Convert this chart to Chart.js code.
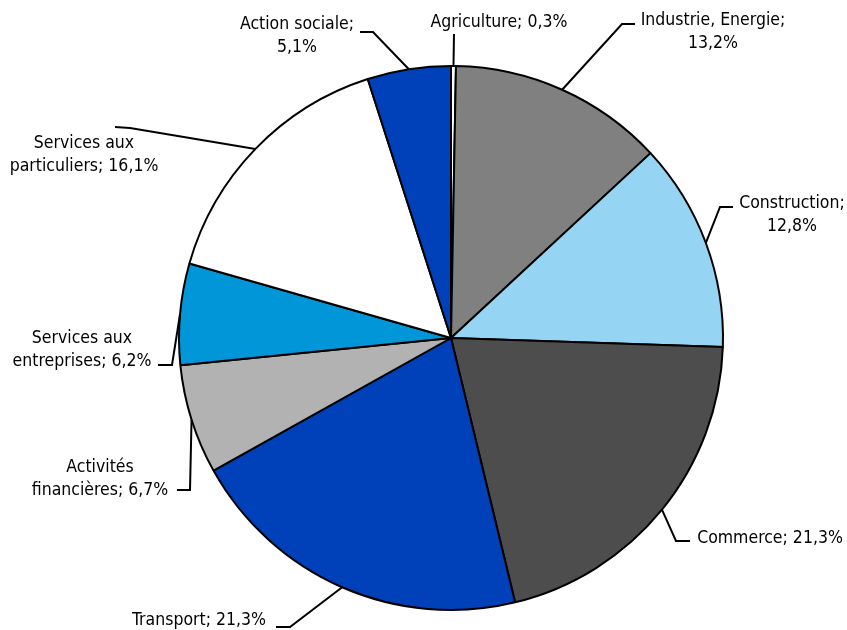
<!DOCTYPE html>
<html>
<head>
<meta charset="utf-8">
<script src="https://cdn.jsdelivr.net/npm/chart.js@4.4.1/dist/chart.umd.min.js"></script>
<style>
  html, body { margin: 0; padding: 0; background: #fff; }
  #wrap { width: 847px; height: 630px; }
</style>
</head>
<body>
<div id="wrap"><canvas id="chart" width="847" height="630"></canvas></div>
<script>
// data (clockwise from 12 o'clock)
const categories = [
  "Agriculture", "Industrie, Energie", "Construction", "Commerce", "Transport",
  "Activités financières", "Services aux entreprises", "Services aux particuliers", "Action sociale"
];
const shares = [0.3, 13.2, 12.8, 21.3, 21.3, 6.7, 6.2, 16.1, 5.1];
const colors = ["#ffffff", "#808080", "#96d4f4", "#4d4d4d", "#0041b9", "#b2b2b2", "#0096d8", "#ffffff", "#0041b9"];

// label placement: words on first line, text centre, line path after the slice edge
const labelLayout = [
  { words: 0, x: 499, y: 22,  path: [[454, 34]] },
  { words: 2, x: 713, y: 20,  path: [[622, 24], [635, 24]] },
  { words: 1, x: 792, y: 203, path: [[720, 207], [733, 207]] },
  { words: 0, x: 770, y: 538, path: [[676, 541], [690, 541]] },
  { words: 0, x: 199, y: 620, path: [[290, 627], [276, 627]] },
  { words: 1, x: 100, y: 467, path: [[190, 490], [177, 490]] },
  { words: 2, x: 82,  y: 338, path: [[172, 365], [158, 365]] },
  { words: 2, x: 84,  y: 143, path: [[130, 128], [115, 127]] },
  { words: 2, x: 297, y: 24,  path: [[373, 32], [360, 32]] }
];

const FONT = '17.5px "DejaVu Sans Condensed", "DejaVu Sans", sans-serif';
const LINE_H = 23;

function labelText(i) {
  const txt = categories[i] + "; " + shares[i].toFixed(1).replace(".", ",") + "%";
  const n = labelLayout[i].words;
  if (!n) return [txt];
  const w = txt.split(" ");
  return [w.slice(0, n).join(" "), w.slice(n).join(" ")];
}

const leaderLabels = {
  id: "leaderLabels",
  afterDatasetsDraw(chart) {
    const ctx = chart.ctx;
    const arcs = chart.getDatasetMeta(0).data;
    ctx.save();
    ctx.strokeStyle = "#000";
    ctx.lineWidth = 2;
    ctx.fillStyle = "#000";
    ctx.font = FONT;
    ctx.textAlign = "center";
    ctx.textBaseline = "middle";
    arcs.forEach((arc, i) => {
      const p = arc.getProps(["x", "y", "startAngle", "endAngle", "outerRadius"], true);
      const mid = (p.startAngle + p.endAngle) / 2;
      const ax = p.x + Math.cos(mid) * p.outerRadius;
      const ay = p.y + Math.sin(mid) * p.outerRadius;
      const lay = labelLayout[i];
      ctx.beginPath();
      ctx.moveTo(ax, ay);
      lay.path.forEach(pt => ctx.lineTo(pt[0], pt[1]));
      ctx.stroke();
      labelText(i).forEach((line, k) => ctx.fillText(line, lay.x, lay.y + k * LINE_H));
    });
    ctx.restore();
  }
};

new Chart(document.getElementById("chart"), {
  type: "pie",
  data: {
    labels: categories,
    datasets: [{
      data: shares,
      backgroundColor: colors,
      borderColor: "#000",
      borderWidth: 2
    }]
  },
  options: {
    responsive: false,
    animation: false,
    layout: { padding: { top: 65, bottom: 19, left: 178, right: 123 } },
    plugins: {
      legend: { display: false },
      tooltip: { enabled: false }
    }
  },
  plugins: [leaderLabels]
});
</script>
</body>
</html>
